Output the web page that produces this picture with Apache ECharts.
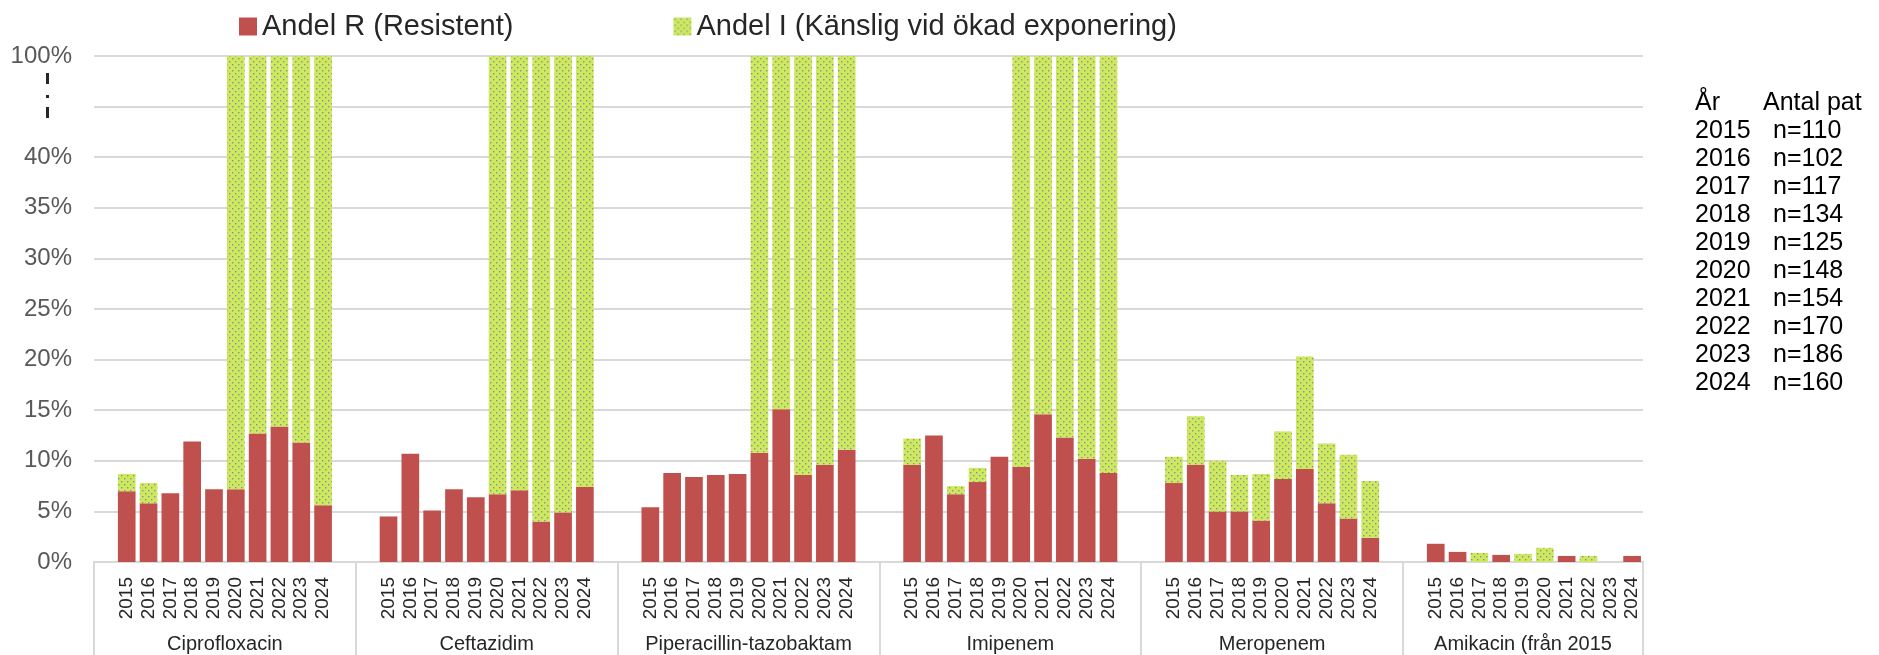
<!DOCTYPE html>
<html>
<head>
<meta charset="utf-8">
<script src="https://cdn.jsdelivr.net/npm/echarts@6/dist/echarts.min.js"></script>
<style>
  html, body { margin: 0; padding: 0; background: #fff; }
  #chart { width: 1879px; height: 655px; }
</style>
</head>
<body>
<div id="chart"></div>
<script>
// antibiotika och år
const groups = ['Ciprofloxacin', 'Ceftazidim', 'Piperacillin-tazobaktam', 'Imipenem', 'Meropenem', 'Amikacin (från 2015'];
const years = ['2015', '2016', '2017', '2018', '2019', '2020', '2021', '2022', '2023', '2024'];

// andel R och andel I i procent, per antibiotikum
const ciprofloxacinR = [7.0, 5.8, 6.8, 11.9, 7.2, 7.2, 12.7, 13.4, 11.8, 5.6];
const ciprofloxacinI = [1.7, 2.0, 0, 0, 0, 92.8, 87.3, 86.6, 88.2, 94.4];
const ceftazidimR = [4.5, 10.7, 5.1, 7.2, 6.4, 6.7, 7.1, 4.0, 4.9, 7.4];
const ceftazidimI = [0, 0, 0, 0, 0, 93.3, 92.9, 96.0, 95.1, 92.6];
const piptazoR = [5.4, 8.8, 8.4, 8.6, 8.7, 10.8, 15.1, 8.6, 9.6, 11.1];
const piptazoI = [0, 0, 0, 0, 0, 89.2, 84.9, 91.4, 90.4, 88.9];
const imipenemR = [9.6, 12.5, 6.7, 7.9, 10.4, 9.4, 14.6, 12.3, 10.2, 8.8];
const imipenemI = [2.6, 0, 0.8, 1.4, 0, 90.6, 85.4, 87.7, 89.8, 91.2];
const meropenemR = [7.8, 9.6, 5.0, 5.0, 4.1, 8.2, 9.2, 5.8, 4.3, 2.4];
const meropenemI = [2.6, 4.8, 5.0, 3.6, 4.6, 4.7, 11.1, 5.9, 6.3, 5.6];
const amikacinR = [1.8, 1.0, 0, 0.7, 0, 0, 0.6, 0, 0, 0.6];
const amikacinI = [0, 0, 0.9, 0, 0.8, 1.4, 0, 0.6, 0, 0];

// antal patienter per år
const tableYears = years;
const tablePatients = ['n=110', 'n=102', 'n=117', 'n=134', 'n=125', 'n=148', 'n=154', 'n=170', 'n=186', 'n=160'];

const yTicks = [0, 5, 10, 15, 20, 25, 30, 35, 40, 45, 50];

const allR = [ciprofloxacinR, ceftazidimR, piptazoR, imipenemR, meropenemR, amikacinR];
const allI = [ciprofloxacinI, ceftazidimI, piptazoI, imipenemI, meropenemI, amikacinI];

// bruten y-axel: 0-45 linjärt, sedan 45-100 ihoptryckt till ett steg
function toAxis(v) {
  return v <= 45 ? v : 45 + (v - 45) * 5 / 55;
}

// kategorier: en tom plats före varje grupp och en efter (utom sista)
const cats = [];
const dataR = [];
const dataI = [];
const boundaries = [0];
const centers = [];
groups.forEach((g, gi) => {
  const start = cats.length;
  cats.push(''); dataR.push(null); dataI.push(null);
  years.forEach((y, yi) => {
    cats.push(y);
    const r = allR[gi][yi];
    const i = allI[gi][yi];
    dataR.push(r > 0 ? toAxis(r) : null);
    dataI.push(i > 0 ? toAxis(r + i) - toAxis(r) : null);
  });
  if (gi < groups.length - 1) {
    cats.push(''); dataR.push(null); dataI.push(null);
  }
  boundaries.push(cats.length);
  centers.push((start + cats.length) / 2);
});

// prickmönster för andel I
const pat = document.createElement('canvas');
pat.width = 6; pat.height = 6;
const pctx = pat.getContext('2d');
pctx.fillStyle = '#CDEA5C';
pctx.fillRect(0, 0, 6, 6);
pctx.fillStyle = '#8F8AA6';
pctx.fillRect(1, 1, 1.4, 1.4);
pctx.fillRect(4, 4, 1.4, 1.4);

const font = 'Arial, "Liberation Sans", sans-serif';

const tableGraphics = [
  { type: 'text', left: 1695, top: 91, style: { text: 'År', font: '25px Arial', fill: '#000' } },
  { type: 'text', left: 1763, top: 91, style: { text: 'Antal pat', font: '25px Arial', fill: '#000' } }
];
tableYears.forEach((y, i) => {
  tableGraphics.push({ type: 'text', left: 1695, top: 119 + i * 28, style: { text: y, font: '25px Arial', fill: '#000' } });
  tableGraphics.push({ type: 'text', left: 1773, top: 119 + i * 28, style: { text: tablePatients[i], font: '25px Arial', fill: '#000' } });
});

const chart = echarts.init(document.getElementById('chart'));
chart.setOption({
  animation: false,
  legend: {
    left: 234,
    top: 7,
    itemWidth: 18,
    itemHeight: 18,
    itemGap: 160,
    icon: 'rect',
    textStyle: { fontSize: 29, fontFamily: font, color: '#262626' }
  },
  grid: { left: 94, right: 236, top: 56, bottom: 93 },
  xAxis: [
    {
      type: 'category',
      data: cats,
      axisLine: { lineStyle: { color: '#D9D9D9', width: 2 } },
      axisTick: { show: false },
      axisLabel: { interval: 0, rotate: 90, margin: 15, fontSize: 19, fontFamily: font, color: '#262626' }
    },
    {
      type: 'value',
      position: 'bottom',
      min: 0,
      max: cats.length,
      splitLine: { show: false },
      axisLine: { show: false },
      axisTick: { show: true, customValues: boundaries, length: 95, lineStyle: { color: '#D9D9D9', width: 2 } },
      axisLabel: {
        customValues: centers,
        margin: 72,
        fontSize: 20,
        fontFamily: font,
        color: '#262626',
        formatter: (v) => {
          const k = centers.indexOf(v);
          return k >= 0 ? groups[k] : '';
        }
      }
    }
  ],
  yAxis: {
    type: 'value',
    min: 0,
    max: 50,
    interval: 5,
    axisLine: { show: false },
    axisTick: { show: false },
    splitLine: { lineStyle: { color: '#D9D9D9', width: 2 } },
    axisLabel: {
      margin: 22,
      fontSize: 24,
      fontFamily: font,
      color: '#595959',
      formatter: (v) => {
        if (v === yTicks[yTicks.length - 1]) return '100%';
        if (v === yTicks[yTicks.length - 2]) return '';
        return v + '%';
      }
    }
  },
  graphic: [
    { type: 'rect', shape: { x: 46, y: 73, width: 3, height: 11 }, style: { fill: '#262626' } },
    { type: 'rect', shape: { x: 46, y: 95, width: 3, height: 3 }, style: { fill: '#262626' } },
    { type: 'rect', shape: { x: 46, y: 107, width: 3, height: 11 }, style: { fill: '#262626' } }
  ].concat(tableGraphics),
  series: [
    {
      name: 'Andel R (Resistent)',
      type: 'bar',
      stack: 'a',
      data: dataR,
      barCategoryGap: '19%',
      itemStyle: { color: '#C0504D' }
    },
    {
      name: 'Andel I (Känslig vid ökad exponering)',
      type: 'bar',
      stack: 'a',
      data: dataI,
      barCategoryGap: '19%',
      itemStyle: { color: { image: pat, repeat: 'repeat' } }
    }
  ]
});
</script>
</body>
</html>
